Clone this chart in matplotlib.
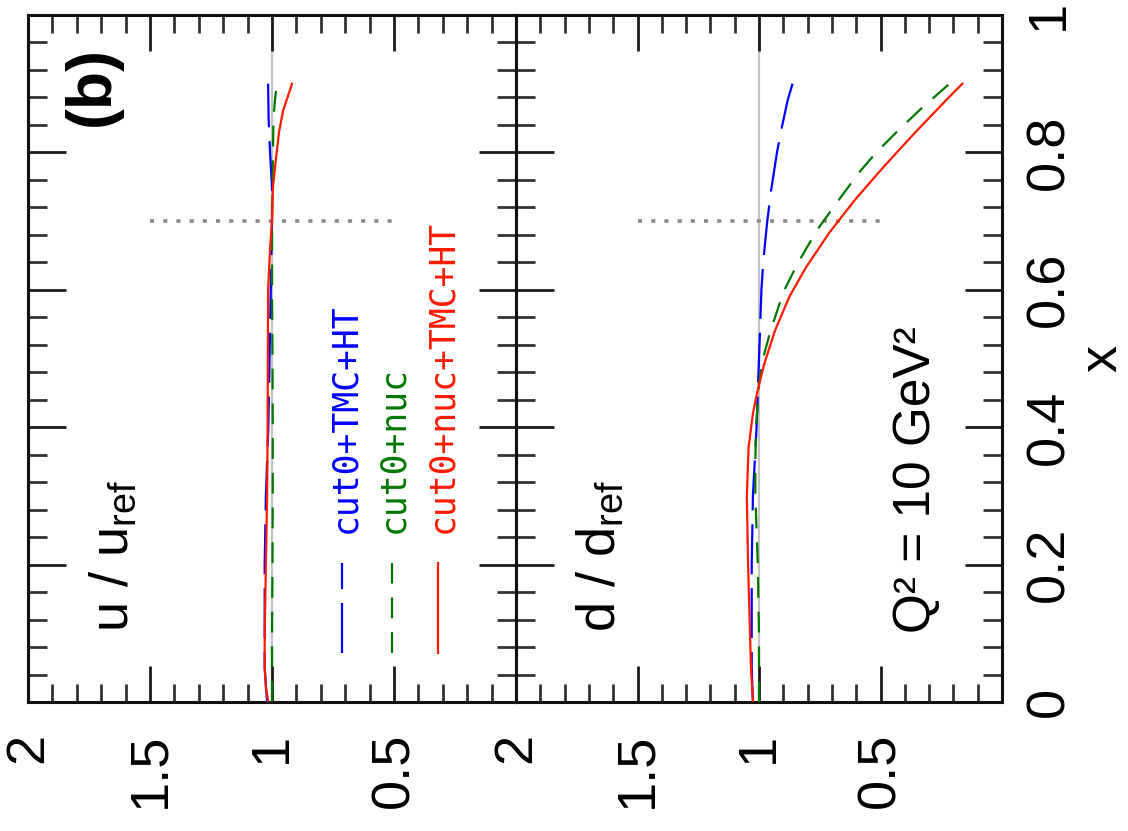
import matplotlib
matplotlib.use('Agg')
import numpy as np
import matplotlib.pyplot as plt
from matplotlib.ticker import MultipleLocator

plt.rcParams['font.family'] = ['Liberation Sans', 'DejaVu Sans']
plt.rcParams['mathtext.fontset'] = 'custom'
plt.rcParams['mathtext.rm'] = 'Liberation Sans'
plt.rcParams['mathtext.it'] = 'Liberation Sans'
plt.rcParams['mathtext.bf'] = 'Liberation Sans:bold'
plt.rcParams['lines.scale_dashes'] = False

# ---------------- data ----------------
# u / u_ref panel
u_red_x = [0.0, 0.02, 0.05, 0.1, 0.2, 0.3, 0.4, 0.5, 0.6, 0.66, 0.7, 0.75, 0.79, 0.83, 0.86, 0.9]
u_red_r = [1.015, 1.025, 1.03, 1.03, 1.025, 1.02, 1.018, 1.017, 1.016, 1.008, 1.0, 0.996, 0.984, 0.971, 0.955, 0.918]
u_blue_x = [0.0, 0.05, 0.1, 0.2, 0.3, 0.4, 0.5, 0.6, 0.7, 0.75, 0.8, 0.85, 0.9]
u_blue_r = [1.02, 1.03, 1.03, 1.03, 1.025, 1.015, 1.01, 1.005, 1.0, 1.0, 1.008, 1.014, 1.016]
u_green_x = [0.0, 0.1, 0.2, 0.3, 0.4, 0.5, 0.6, 0.7, 0.8, 0.85, 0.876, 0.9]
u_green_r = [1.0, 1.0, 0.998, 0.997, 0.997, 0.998, 1.0, 1.0, 0.996, 0.994, 0.988, 0.98]

# d / d_ref panel
d_red_x = [0.0, 0.05, 0.1, 0.2, 0.3, 0.37, 0.42, 0.45, 0.49, 0.54, 0.59, 0.633, 0.683, 0.731, 0.779, 0.828, 0.876, 0.9]
d_red_r = [1.025, 1.033, 1.037, 1.045, 1.05, 1.043, 1.025, 1.008, 0.98, 0.935, 0.875, 0.806, 0.711, 0.605, 0.487, 0.36, 0.23, 0.163]
d_green_x = [0.0, 0.1, 0.2, 0.3, 0.35, 0.4, 0.464, 0.502, 0.541, 0.598, 0.639, 0.687, 0.734, 0.77, 0.799, 0.831, 0.863, 0.891, 0.902]
d_green_r = [1.0, 1.0, 1.005, 1.015, 1.015, 1.012, 1.0, 0.982, 0.952, 0.898, 0.84, 0.761, 0.665, 0.59, 0.52, 0.43, 0.335, 0.245, 0.21]
d_blue_x = [0.0, 0.05, 0.1, 0.2, 0.3, 0.4, 0.45, 0.5, 0.55, 0.6, 0.643, 0.7, 0.745, 0.8, 0.83, 0.876, 0.9]
d_blue_r = [1.025, 1.03, 1.03, 1.03, 1.025, 1.01, 1.005, 1.0, 0.995, 0.99, 0.982, 0.966, 0.95, 0.926, 0.91, 0.882, 0.862]

series_labels = ['cut0+TMC+HT', 'cut0+nuc', 'cut0+nuc+TMC+HT']
series_colors = ['#0000ff', '#007800', '#ff1a00']

ratio_ticks = [2, 1.5, 1, 0.5]
ratio_tick_labels = ['2', '1.5', '1', '0.5']
x_ticks = [0, 0.2, 0.4, 0.6, 0.8, 1]
x_tick_labels = ['0', '0.2', '0.4', '0.6', '0.8', '1']

ref_ratio = 1.0
cut_x = 0.7
cut_ratio_span = [1.5, 0.5]

# ---------------- figure ----------------
W, H = 1128, 831
fig = plt.figure(figsize=(W / 100, H / 100), dpi=100)
axu = fig.add_axes([28 / W, 129 / H, 488 / W, 687 / H])
axd = fig.add_axes([516 / W, 129 / H, 486 / W, 687 / H])

styles = [dict(dashes=(36, 10)), dict(dashes=(15, 10)), dict(linestyle='-')]

for ax, xs, rs in [
    (axu, [u_blue_x, u_green_x, u_red_x], [u_blue_r, u_green_r, u_red_r]),
    (axd, [d_blue_x, d_green_x, d_red_x], [d_blue_r, d_green_r, d_red_r]),
]:
    ax.set_xlim(2, 0)
    ax.set_ylim(0, 1)
    ax.axvline(ref_ratio, color='#c4c4c4', lw=1.6, zorder=1)
    ax.plot(cut_ratio_span, [cut_x, cut_x], color='#8a8a8a', lw=2.6,
            dashes=(3, 6.5), zorder=2)
    for x, r, c, st in zip(xs, rs, series_colors, styles):
        ax.plot(r, x, color=c, lw=1.6, zorder=3, **st)

    ax.set_xticks(ratio_ticks)
    ax.set_xticklabels(ratio_tick_labels)
    ax.xaxis.set_minor_locator(MultipleLocator(0.1))
    ax.set_yticks(x_ticks)
    ax.yaxis.set_minor_locator(MultipleLocator(0.04))
    ax.tick_params(axis='x', which='major', direction='in', top=True, bottom=True,
                   length=26, width=2, labelsize=39, pad=22, labelrotation=90,
                   color='#1a1a1a')
    ax.tick_params(axis='x', which='minor', direction='in', top=True, bottom=True,
                   length=13, width=2, color='#333333')
    ax.tick_params(axis='y', which='major', direction='in', left=True, right=True,
                   length=27, width=2, color='#1a1a1a')
    ax.tick_params(axis='y', which='minor', direction='in', left=True, right=True,
                   length=14, width=2, color='#333333')
    for s in ax.spines.values():
        s.set_linewidth(2.2)
        s.set_color('#111111')

axu.tick_params(axis='y', labelleft=False, labelright=False)
axd.set_yticklabels(x_tick_labels)
axd.tick_params(axis='y', labelleft=False, labelright=True, labelsize=39,
                labelrotation=90, pad=16)
for lab in axd.get_yticklabels():
    lab.set_va('center')

fig.text(1116 / W, 1 - 358 / H, 'x', rotation=90, rotation_mode='anchor',
         ha='center', va='baseline', fontsize=39)

# annotations
txt = dict(rotation=90, rotation_mode='anchor', ha='left', va='baseline')
axu.text(1.738, 0.897, '(b)', rotation=90, ha='center', va='center',
         fontsize=45, fontweight='bold')
axu.text(1.59, 0.102, r'$\mathrm{u\ /\ u_{ref}}$', fontsize=39, **txt)
axd.text(1.593, 0.102, r'$\mathrm{d\ /\ d_{ref}}$', fontsize=39, **txt)
axd.text(0.296, 0.100, 'Q² = 10 GeV²', fontsize=37, **txt)

# legend (drawn inside the u panel)
leg_text_r = [0.660, 0.463, 0.262]
leg_line_r = [0.713, 0.508, 0.320]
leg_line_x = [0.071, 0.202]
leg_text_x = 0.246
for lab, c, st, tr, lr in zip(series_labels, series_colors, styles, leg_text_r, leg_line_r):
    axu.plot([lr, lr], leg_line_x, color=c, lw=1.6, **st)
    axu.text(tr, leg_text_x, lab, color=c, fontsize=25,
             family=['DejaVu Sans Mono'], **txt)

fig.savefig('out.png', dpi=100)
